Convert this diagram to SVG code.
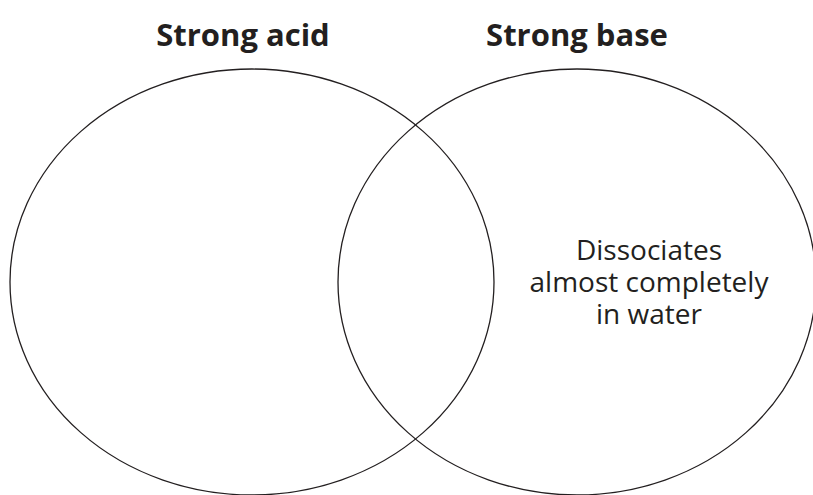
<svg xmlns="http://www.w3.org/2000/svg" width="813" height="495" viewBox="0 0 813 495">
<style>
.ring{fill:none;stroke:#231f20;stroke-width:1.3}
.title{font-family:"Open Sans","Liberation Sans",sans-serif;font-weight:bold;font-size:31px;fill:#231f20;text-anchor:middle}
.body{font-family:"Open Sans","Liberation Sans",sans-serif;font-size:28px;fill:#231f20;text-anchor:middle}
</style>
<rect width="813" height="495" fill="#fff"/>
<g id="strong-acid">
<ellipse class="ring" cx="252" cy="282" rx="242" ry="213"/>
<text class="title" x="243" y="46">Strong acid</text>
</g>
<g id="strong-base">
<ellipse class="ring" cx="577" cy="282" rx="239" ry="213"/>
<text class="title" x="577" y="46">Strong base</text>
<text class="body" x="649" y="260">Dissociates</text>
<text class="body" x="649" y="292">almost completely</text>
<text class="body" x="649" y="324">in water</text>
</g>
<g id="connectors"></g>
</svg>
